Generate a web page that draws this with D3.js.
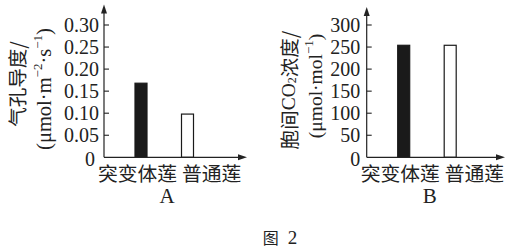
<!DOCTYPE html>
<html><head><meta charset="utf-8">
<script src="https://cdn.jsdelivr.net/npm/d3@7"></script>
<style>
html,body{margin:0;padding:0;background:#fff;}
svg{display:block;}
</style></head>
<body>
<svg id="c" width="506" height="251"></svg>
<script>
const categories = ["突变体莲", "普通莲"];
const conductanceValues = [0.168, 0.098];      // 气孔导度
const co2Values = [254, 254];                   // 胞间CO2浓度
const ticksA = [0, 0.05, 0.10, 0.15, 0.20, 0.25, 0.30];
const ticksB = [0, 50, 100, 150, 200, 250, 300];
const panelLabels = ["A", "B"];
const caption = ["图", "2"];

const svg = d3.select("#c");
const ink = "#222";
const serif = "'Liberation Serif','Times New Roman',serif";
const cjk = "'Noto Sans CJK SC','Noto Sans CJK JP',sans-serif";

const panels = [
  {ax: 104, top: 4.5, right: 247, domain: [0, 0.30], ticks: ticksA, values: conductanceValues,
   fmt: d => d === 0 ? "0" : d3.format(".2f")(d), tickGap: 5, panel: panelLabels[0],
   title: {x1: 16, y1: 84, x2: 43.5, y2: 89, size2: 20.5}},
  {ax: 366.7, top: 7, right: 505, domain: [0, 300], ticks: ticksB, values: co2Values,
   fmt: d => String(d), tickGap: 6.5, panel: panelLabels[1],
   title: {x1: 288, y1: 90, x2: 315, y2: 86, size2: 19.5}}
];

const y0 = 157.3, yTop = 25;

panels.forEach((p, pi) => {
  const g = svg.append("g");
  const y = d3.scaleLinear().domain(p.domain).range([y0, yTop]);
  const x = d3.scalePoint().domain(categories).range([p.ax + 37, p.ax + 83.5]);
  const bw = 12;

  // bars
  g.selectAll("rect.bar").data(p.values).join("rect")
    .attr("x", (d, i) => x(categories[i]) - bw / 2)
    .attr("y", d => y(d))
    .attr("width", bw)
    .attr("height", d => y0 - y(d))
    .attr("fill", (d, i) => i === 0 ? "#1a1a1a" : "#fff")
    .attr("stroke", "#1a1a1a")
    .attr("stroke-width", 1.2);

  // y axis line + arrow
  g.append("line").attr("x1", p.ax).attr("x2", p.ax).attr("y1", y0).attr("y2", p.top + 6)
    .attr("stroke", ink).attr("stroke-width", 1.2);
  g.append("path").attr("d", `M${p.ax},${p.top} L${p.ax - 3},${p.top + 9} L${p.ax + 3},${p.top + 9} Z`).attr("fill", ink);
  // x axis line + arrow
  g.append("line").attr("x1", p.ax).attr("x2", p.right - 6).attr("y1", y0).attr("y2", y0)
    .attr("stroke", ink).attr("stroke-width", 1.2);
  g.append("path").attr("d", `M${p.right},${y0} L${p.right - 9},${y0 - 3} L${p.right - 9},${y0 + 3} Z`).attr("fill", ink);

  // ticks (inward, to the right)
  g.selectAll("line.tk").data(p.ticks.filter(d => d !== 0)).join("line")
    .attr("x1", p.ax).attr("x2", p.ax + 5)
    .attr("y1", d => y(d)).attr("y2", d => y(d))
    .attr("stroke", ink).attr("stroke-width", 1.1);
  g.selectAll("text.tl").data(p.ticks).join("text")
    .attr("x", d => d === 0 ? p.ax - (pi === 0 ? 9 : p.tickGap) : p.ax - p.tickGap)
    .attr("y", d => d === 0 ? y(d) + 1.5 : y(d))
    .attr("dy", "0.35em")
    .attr("text-anchor", "end")
    .attr("font-family", serif).attr("font-size", 20).attr("fill", ink)
    .text(p.fmt);

  // category labels
  const labStarts = [p.ax - 6, p.ax + 78];
  g.selectAll("text.cat").data(categories).join("text")
    .attr("x", (d, i) => labStarts[i]).attr("y", 172)
    .attr("dominant-baseline", "central")
    .attr("font-family", cjk).attr("font-size", 19.8).attr("fill", ink)
    .text(d => d);

  // panel letter
  g.append("text").attr("x", p.ax + 63).attr("y", 196).attr("dy", "0.35em")
    .attr("text-anchor", "middle").attr("font-family", serif).attr("font-size", 21).attr("fill", ink)
    .text(p.panel);

  // y titles
  const t = p.title;
  const l1 = g.append("text").attr("transform", `translate(${t.x1},${t.y1}) rotate(-90)`)
    .attr("text-anchor", "middle").attr("dominant-baseline", "central")
    .attr("font-size", 19.5).attr("fill", ink).attr("font-family", cjk);
  const l2 = g.append("text").attr("transform", `translate(${t.x2},${t.y2}) rotate(-90)`)
    .attr("text-anchor", "middle").attr("dominant-baseline", "central")
    .attr("font-size", t.size2).attr("fill", ink).attr("font-family", serif);
  if (pi === 0) {
    l1.text("气孔导度/");
    l2.append("tspan").text("(μmol·m");
    l2.append("tspan").attr("dy", -7).attr("font-size", 13).text("−2");
    l2.append("tspan").attr("dy", 7).text("·s");
    l2.append("tspan").attr("dy", -7).attr("font-size", 13).text("−1");
    l2.append("tspan").attr("dy", 7).text(")");
  } else {
    l1.append("tspan").text("胞间");
    l1.append("tspan").attr("font-family", serif).attr("font-size", 19.5).text("CO");
    l1.append("tspan").attr("font-family", serif).attr("font-size", 12).attr("dy", 4).text("2");
    l1.append("tspan").attr("dy", -4).text("浓度/");
    l2.append("tspan").text("(μmol·mol");
    l2.append("tspan").attr("dy", -7).attr("font-size", 13).text("−1");
    l2.append("tspan").attr("dy", 7).text(")");
  }
});

// caption
const cap = svg.append("text").attr("x", 280).attr("y", 236.5).attr("dominant-baseline", "central")
  .attr("text-anchor", "middle").attr("fill", ink);
cap.append("tspan").attr("font-family", cjk).attr("font-size", 16).text(caption[0]);
cap.append("tspan").attr("font-family", serif).attr("font-size", 19).attr("dx", 9).text(caption[1]);
</script>
</body></html>
